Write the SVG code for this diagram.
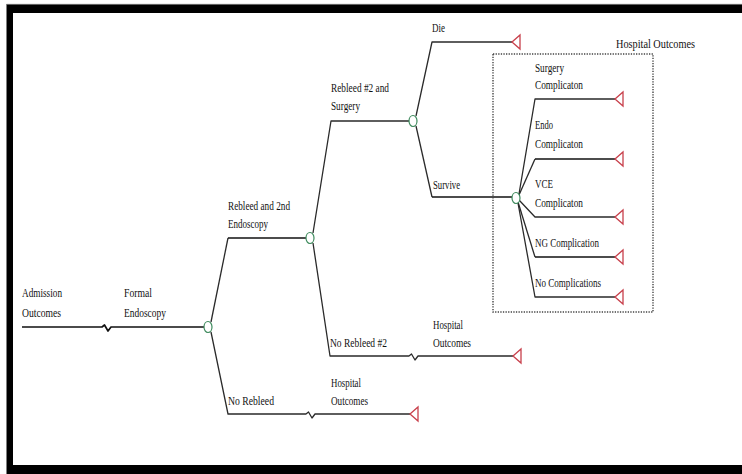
<svg xmlns="http://www.w3.org/2000/svg" width="742" height="474" viewBox="0 0 742 474">
  <style>
    .t { font-family: "Liberation Serif", "Times New Roman", serif; font-size: 13px; fill: #111; }
    .ln { fill: none; stroke: #2a2a2a; stroke-width: 1.3; stroke-linejoin: round; }
    .bold { stroke-width: 1.7; stroke: #111; }
    .chance { fill: #fff; stroke: #3d8a5c; stroke-width: 1.2; }
    .term { fill: #fff; stroke: #c8404c; stroke-width: 1.3; }
    .box { fill: none; stroke: #444; stroke-width: 1.4; stroke-dasharray: 1.3 1.3; }
  </style>
  <defs>
    <!-- terminal marker: left-pointing triangle, apex at origin -->
    <polygon id="tri" points="0,0 8,-7 8,7" class="term"/>
    <!-- chance marker -->
    <ellipse id="chn" cx="0" cy="0" rx="4" ry="5.5" class="chance"/>
  </defs>

  <!-- page frame -->
  <rect x="0" y="0" width="742" height="474" fill="#fff"/>
  <rect x="6.5" y="4" width="736" height="470" fill="#000"/>
  <rect x="13" y="13" width="729" height="452" fill="#fff"/>
  <line x1="6.5" y1="4.3" x2="742" y2="4.3" stroke="#999" stroke-width="0.8"/>

  <!-- connectors -->
  <g id="connectors">
    <!-- root branch with break mark -->
    <path class="ln bold" d="M22,327 H102 L104.5,325 L108,331 L111,327 H204"/>
    <!-- from first chance node -->
    <path class="ln" d="M211,322 L228,238"/>
    <path class="ln bold" d="M228,238 H306"/>
    <path class="ln" d="M211,332 L228,414 H306 L308.5,412 L312,418 L315,414 H410"/>
    <!-- from second chance node -->
    <path class="ln" d="M313,233 L331,121 H409"/>
    <path class="ln" d="M313,243 L330,356 H409 L411.5,354 L415,360 L418,356 H513"/>
    <!-- from third chance node -->
    <path class="ln" d="M416,116 L432,42 H512"/>
    <path class="ln" d="M416,126 L432,197"/>
    <path class="ln bold" d="M432,197 H512"/>
    <!-- hospital outcome branches -->
    <path class="ln" d="M519,194 L535,99 H615"/>
    <path class="ln" d="M519,195 L535,159"/>
    <path class="ln bold" d="M535,159 H615"/>
    <path class="ln" d="M519,200 L535,217 H615"/>
    <path class="ln" d="M518,202 L535,257"/>
    <path class="ln bold" d="M535,257 H615"/>
    <path class="ln" d="M518,203 L535,297 H615"/>
  </g>

  <!-- grouping box -->
  <g id="hospital-group">
    <rect class="box" x="493" y="54" width="160" height="258"/>
    <text class="t" x="616" y="48" textLength="79" lengthAdjust="spacingAndGlyphs">Hospital Outcomes</text>
  </g>

  <g id="admission">
    <text class="t" x="22" y="297" textLength="40" lengthAdjust="spacingAndGlyphs">Admission</text>
    <text class="t" x="22" y="317" textLength="39" lengthAdjust="spacingAndGlyphs">Outcomes</text>
  </g>
  <g id="formal-endoscopy">
    <text class="t" x="124" y="297" textLength="28" lengthAdjust="spacingAndGlyphs">Formal</text>
    <text class="t" x="124" y="317" textLength="42" lengthAdjust="spacingAndGlyphs">Endoscopy</text>
    <use href="#chn" x="208" y="327"/>
  </g>
  <g id="rebleed-2nd-endoscopy">
    <text class="t" x="228" y="210" textLength="62" lengthAdjust="spacingAndGlyphs">Rebleed and 2nd</text>
    <text class="t" x="228" y="228" textLength="40" lengthAdjust="spacingAndGlyphs">Endoscopy</text>
    <use href="#chn" x="310" y="238"/>
  </g>
  <g id="no-rebleed">
    <text class="t" x="228" y="405" textLength="46" lengthAdjust="spacingAndGlyphs">No Rebleed</text>
    <text class="t" x="331" y="387" textLength="30" lengthAdjust="spacingAndGlyphs">Hospital</text>
    <text class="t" x="331" y="405" textLength="37" lengthAdjust="spacingAndGlyphs">Outcomes</text>
    <use href="#tri" x="410" y="414"/>
  </g>
  <g id="rebleed2-surgery">
    <text class="t" x="331" y="92" textLength="58" lengthAdjust="spacingAndGlyphs">Rebleed #2 and</text>
    <text class="t" x="331" y="110" textLength="29" lengthAdjust="spacingAndGlyphs">Surgery</text>
    <use href="#chn" x="413" y="121"/>
  </g>
  <g id="no-rebleed2">
    <text class="t" x="330" y="347" textLength="57" lengthAdjust="spacingAndGlyphs">No Rebleed #2</text>
    <text class="t" x="433" y="329" textLength="30" lengthAdjust="spacingAndGlyphs">Hospital</text>
    <text class="t" x="433" y="347" textLength="38" lengthAdjust="spacingAndGlyphs">Outcomes</text>
    <use href="#tri" x="513" y="356"/>
  </g>
  <g id="die">
    <text class="t" x="432" y="32" textLength="13" lengthAdjust="spacingAndGlyphs">Die</text>
    <use href="#tri" x="512" y="42"/>
  </g>
  <g id="survive">
    <text class="t" x="433" y="189" textLength="27" lengthAdjust="spacingAndGlyphs">Survive</text>
    <use href="#chn" x="516" y="198"/>
  </g>
  <g id="surgery-complication">
    <text class="t" x="535" y="72" textLength="29" lengthAdjust="spacingAndGlyphs">Surgery</text>
    <text class="t" x="535" y="89" textLength="48" lengthAdjust="spacingAndGlyphs">Complicaton</text>
    <use href="#tri" x="615" y="99"/>
  </g>
  <g id="endo-complication">
    <text class="t" x="535" y="129" textLength="18" lengthAdjust="spacingAndGlyphs">Endo</text>
    <text class="t" x="535" y="148" textLength="48" lengthAdjust="spacingAndGlyphs">Complicaton</text>
    <use href="#tri" x="615" y="159"/>
  </g>
  <g id="vce-complication">
    <text class="t" x="535" y="188" textLength="18" lengthAdjust="spacingAndGlyphs">VCE</text>
    <text class="t" x="535" y="207" textLength="48" lengthAdjust="spacingAndGlyphs">Complicaton</text>
    <use href="#tri" x="615" y="217"/>
  </g>
  <g id="ng-complication">
    <text class="t" x="535" y="247" textLength="64" lengthAdjust="spacingAndGlyphs">NG Complication</text>
    <use href="#tri" x="615" y="257"/>
  </g>
  <g id="no-complications">
    <text class="t" x="535" y="287" textLength="66" lengthAdjust="spacingAndGlyphs">No Complications</text>
    <use href="#tri" x="615" y="297"/>
  </g>
</svg>
